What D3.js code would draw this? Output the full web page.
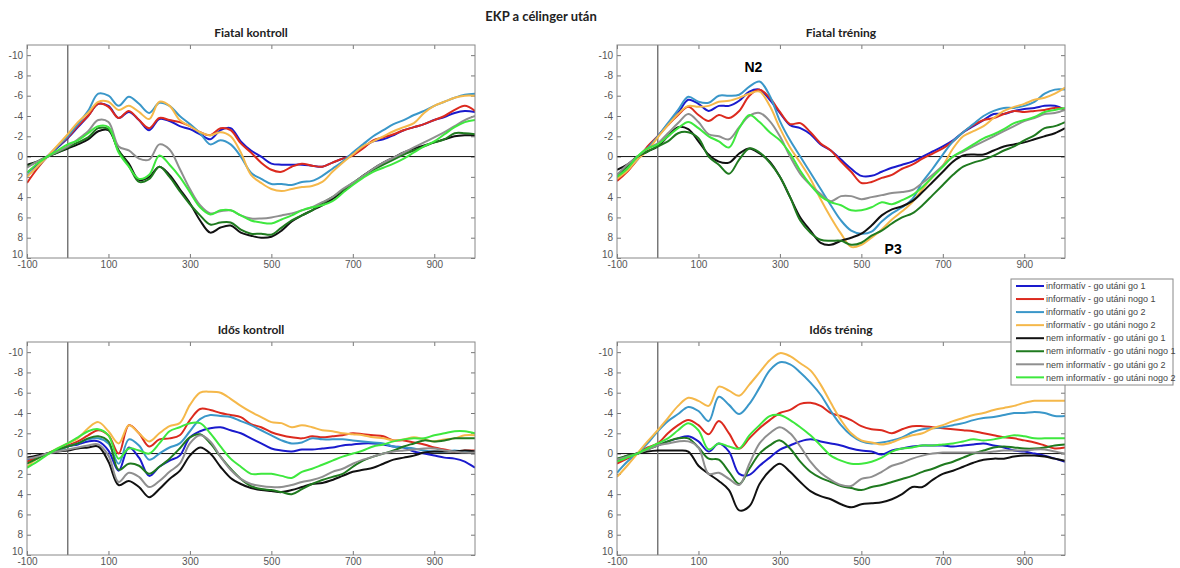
<!DOCTYPE html>
<html>
<head>
<meta charset="utf-8">
<script src="https://cdn.jsdelivr.net/npm/d3@7"></script>
<style>
  body { margin: 0; background: #fff; }
  svg { display: block; font-family: "Liberation Sans", Arial, sans-serif; }
</style>
</head>
<body>
<svg id="chart" width="1180" height="568"></svg>
<script>
// --- adatok ---
// idő (ms), 25 ms-onként
const times = [-100, -75, -50, -25, 0, 25, 50, 75, 100, 125, 150, 175, 200, 225, 250, 275,
  300, 325, 350, 375, 400, 425, 450, 475, 500, 525, 550, 575, 600, 625, 650, 675,
  700, 725, 750, 775, 800, 825, 850, 875, 900, 925, 950, 975, 1000];

const seriesNames = [
  "informatív - go utáni go 1", "informatív - go utáni nogo 1",
  "informatív - go utáni go 2", "informatív - go utáni nogo 2",
  "nem informatív - go utáni go 1", "nem informatív - go utáni nogo 1",
  "nem informatív - go utáni go 2", "nem informatív - go utáni nogo 2"
];
const seriesColors = ["#1a1acd", "#dc2a1e", "#3a97c9", "#f5b84a", "#111111", "#1f7a1f", "#8f8f8f", "#3ee83e"];

const xTicks = [-100, 100, 300, 500, 700, 900];
const yTicks = [-10, -8, -6, -4, -2, 0, 2, 4, 6, 8, 10];

// Fiatal kontroll
const fkInfGo1 = [1.6, 0.8, 0.0, -0.9, -1.8, -2.9, -4.0, -5.2, -5.0, -3.8, -4.4, -3.6, -2.6, -3.7, -3.5, -3.0, -2.7, -2.2, -1.7, -2.6, -2.8, -1.5, -0.6, 0.0, 0.7, 0.8, 0.8, 0.8, 0.9, 1.0, 0.6, 0.2, -0.2, -0.9, -1.5, -1.7, -2.1, -2.6, -2.9, -3.2, -3.6, -3.9, -4.3, -4.5, -4.4];
const fkInfNogo1 = [2.6, 1.2, 0.0, -1.0, -1.9, -3.0, -4.0, -5.2, -4.9, -3.8, -4.5, -3.6, -2.8, -3.8, -3.6, -3.4, -3.0, -2.4, -2.1, -2.8, -2.6, -1.3, -0.4, 0.6, 1.3, 1.5, 1.0, 0.7, 0.9, 1.0, 0.6, 0.2, -0.1, -0.8, -1.6, -1.9, -2.2, -2.6, -2.9, -3.2, -3.6, -4.0, -4.6, -5.0, -4.5];
const fkInfGo2 = [1.9, 1.0, 0.0, -1.0, -2.0, -3.2, -4.5, -6.2, -6.0, -5.0, -5.9, -5.2, -4.3, -5.3, -5.0, -4.0, -3.2, -2.3, -1.2, -1.6, -1.2, 0.0, 1.6, 2.2, 2.7, 2.7, 2.8, 2.5, 2.4, 1.9, 1.2, 0.5, -0.4, -1.2, -2.0, -2.6, -3.2, -3.6, -4.1, -4.5, -5.0, -5.4, -5.8, -6.1, -6.2];
const fkInfNogo2 = [2.0, 1.0, 0.0, -1.1, -2.2, -3.4, -4.3, -5.4, -5.4, -4.6, -5.0, -4.4, -3.7, -5.4, -5.0, -3.6, -3.0, -2.4, -2.1, -2.4, -2.0, -0.4, 1.8, 2.6, 3.2, 3.4, 3.2, 3.0, 2.9, 2.5, 1.5, 0.6, -0.2, -1.0, -1.5, -2.0, -2.5, -2.9, -3.3, -4.3, -5.0, -5.4, -5.8, -6.0, -6.0];
const fkNemGo1 = [0.8, 0.5, 0.0, -0.4, -0.8, -1.2, -1.7, -2.5, -2.6, -0.6, 0.7, 2.3, 2.0, 1.0, 1.8, 3.2, 4.6, 6.3, 7.5, 7.0, 6.8, 7.5, 7.8, 8.0, 7.9, 7.3, 6.4, 5.8, 5.3, 4.8, 4.2, 3.5, 2.7, 1.9, 1.2, 0.6, 0.1, -0.4, -0.8, -1.1, -1.4, -1.7, -2.0, -2.1, -2.1];
const fkNemNogo1 = [1.0, 0.5, 0.0, -0.4, -0.9, -1.4, -1.9, -2.8, -2.7, -0.6, 0.9, 2.5, 2.2, 1.0, 2.0, 3.4, 4.7, 5.8, 6.7, 6.5, 6.5, 7.2, 7.6, 7.6, 7.7, 7.0, 6.3, 5.8, 5.3, 4.6, 4.0, 3.3, 2.6, 1.9, 1.3, 0.8, 0.3, -0.2, -0.6, -1.0, -1.4, -1.7, -2.3, -2.3, -2.2];
const fkNemGo2 = [1.1, 0.5, 0.0, -0.5, -1.0, -1.7, -2.5, -3.6, -3.4, -1.0, -0.6, 0.2, 0.3, -1.2, -0.7, 1.2, 3.2, 4.8, 5.6, 5.4, 5.3, 5.8, 6.1, 6.1, 6.0, 5.8, 5.6, 5.3, 5.0, 4.5, 4.0, 3.2, 2.6, 1.9, 1.2, 0.6, 0.1, -0.4, -0.9, -1.4, -1.9, -2.4, -3.0, -3.6, -4.0];
const fkNemNogo2 = [1.6, 0.7, 0.0, -0.6, -1.2, -1.6, -2.3, -3.0, -2.9, -0.4, 1.0, 2.2, 1.8, -0.1, 0.8, 2.0, 3.5, 5.0, 5.7, 5.3, 5.3, 5.8, 6.3, 6.5, 6.6, 6.2, 5.8, 5.3, 5.0, 4.8, 4.4, 3.6, 2.8, 2.1, 1.5, 1.1, 0.7, 0.2, -0.4, -1.0, -1.5, -2.2, -2.9, -3.4, -3.6];

// Fiatal tréning
const ftInfGo1 = [2.0, 1.3, 0.3, -0.9, -2.0, -3.2, -4.3, -5.6, -5.2, -4.5, -5.0, -5.0, -5.5, -6.4, -6.6, -5.6, -4.3, -3.1, -2.8, -2.2, -1.2, -0.6, 0.3, 1.2, 1.9, 1.9, 1.5, 1.1, 0.8, 0.5, 0.0, -0.5, -1.0, -1.6, -2.4, -3.0, -3.6, -4.2, -4.2, -4.5, -4.7, -4.8, -5.0, -5.0, -4.6];
const ftInfNogo1 = [2.4, 1.5, 0.3, -1.0, -2.0, -3.1, -4.1, -4.9, -4.1, -3.5, -4.1, -3.8, -4.5, -6.0, -6.6, -5.8, -4.4, -3.2, -3.3, -2.4, -1.3, -0.6, 0.5, 1.5, 2.6, 2.5, 2.1, 1.8, 1.2, 0.8, 0.2, -0.3, -0.8, -1.5, -2.4, -3.1, -3.6, -3.8, -4.2, -4.5, -4.4, -4.5, -4.6, -4.8, -4.7];
const ftInfGo2 = [2.0, 1.2, 0.3, -0.8, -2.0, -3.3, -4.6, -5.9, -5.4, -5.3, -6.0, -6.0, -6.1, -6.9, -7.4, -6.0, -3.5, -1.6, 0.0, 1.6, 3.2, 4.8, 6.3, 7.3, 7.6, 7.4, 6.4, 5.6, 5.0, 4.2, 2.5, 1.2, -0.2, -1.5, -2.4, -3.2, -4.0, -4.5, -4.8, -4.8, -5.0, -5.4, -6.2, -6.6, -6.6];
const ftInfNogo2 = [2.2, 1.4, 0.3, -0.6, -1.9, -3.1, -4.2, -5.0, -4.9, -5.0, -5.4, -5.5, -5.8, -6.2, -6.4, -5.0, -2.8, -0.9, 0.6, 2.2, 4.2, 6.0, 7.6, 8.9, 8.7, 8.0, 7.2, 6.2, 5.4, 4.5, 3.2, 2.0, 0.9, -0.8, -2.0, -2.5, -3.0, -3.8, -4.5, -4.9, -5.2, -5.6, -5.8, -6.2, -6.8];
const ftNemGo1 = [1.3, 0.8, 0.0, -0.5, -1.0, -2.0, -2.9, -2.7, -1.5, -0.2, 0.5, 0.6, -0.3, -0.8, -0.3, 0.5, 2.0, 4.0, 6.0, 7.3, 8.5, 8.7, 8.3, 8.0, 7.6, 6.8, 5.8, 5.2, 4.9, 4.4, 3.5, 2.5, 1.5, 0.5, -0.1, -0.2, -0.2, -0.6, -1.0, -1.2, -1.4, -1.7, -2.0, -2.3, -2.8];
const ftNemNogo1 = [1.8, 1.0, 0.0, -0.5, -1.0, -1.5, -2.3, -2.4, -1.8, 0.0, 0.8, 1.7, 0.3, -0.8, -0.4, 0.6, 2.0, 4.0, 6.3, 7.5, 8.2, 8.3, 8.3, 8.7, 8.5, 7.8, 7.3, 6.6, 6.0, 5.6, 4.8, 3.8, 2.8, 1.8, 1.0, 0.6, 0.3, -0.1, -0.6, -1.0, -1.6, -2.1, -2.8, -3.0, -3.4];
const ftNemGo2 = [1.8, 0.8, 0.0, -0.8, -1.3, -2.3, -3.3, -4.2, -3.4, -2.2, -2.0, -1.7, -2.9, -4.0, -4.3, -3.5, -2.0, 0.0, 1.7, 2.8, 3.7, 4.4, 3.9, 3.9, 4.2, 4.0, 3.8, 3.6, 3.5, 3.3, 2.6, 1.8, 0.9, 0.0, -0.5, -1.0, -1.5, -2.0, -2.5, -3.0, -3.5, -3.8, -4.2, -4.3, -4.6];
const ftNemNogo2 = [2.0, 1.2, 0.0, -0.8, -1.2, -2.0, -2.8, -3.4, -2.8, -2.0, -1.5, -0.9, -2.8, -4.1, -3.4, -2.4, -1.6, -0.3, 1.4, 2.8, 3.9, 4.5, 4.8, 5.3, 5.3, 5.0, 4.5, 4.7, 4.3, 3.8, 3.0, 2.0, 1.0, 0.0, -0.6, -1.2, -1.8, -2.2, -2.7, -3.3, -3.6, -3.9, -4.4, -4.6, -4.8];

// Idős kontroll
const ikInfGo1 = [0.6, 0.3, 0.0, -0.3, -0.7, -0.9, -1.2, -1.2, -0.3, 1.7, -0.6, 0.4, 2.2, 1.3, 0.7, 0.2, -1.6, -2.2, -2.5, -2.6, -2.3, -2.0, -1.5, -1.0, -0.5, -0.3, -0.2, -0.4, -0.4, -0.5, -0.6, -0.8, -0.9, -1.0, -1.0, -0.9, -0.7, -0.6, -0.2, 0.0, 0.2, 0.4, 0.5, 0.8, 1.4];
const ikInfNogo1 = [0.8, 0.4, 0.0, -0.4, -0.8, -1.2, -1.8, -2.3, -1.8, 0.0, -2.8, -2.0, -0.7, -1.4, -1.5, -1.8, -3.3, -4.4, -4.3, -4.0, -3.8, -3.6, -2.9, -2.6, -2.1, -1.8, -1.6, -1.5, -1.7, -1.6, -1.7, -1.8, -2.0, -1.9, -1.8, -1.7, -1.3, -1.3, -1.1, -0.9, -0.6, -0.4, -0.2, -0.3, -0.3];
const ikInfGo2 = [0.5, 0.3, 0.0, -0.3, -0.7, -1.0, -1.4, -1.5, -1.0, 1.0, -1.4, -0.8, 0.6, 0.0, -0.6, -1.0, -2.2, -3.4, -3.8, -3.7, -3.6, -3.2, -2.8, -2.3, -1.8, -1.3, -1.0, -1.1, -1.5, -1.4, -1.4, -1.4, -1.3, -1.2, -1.1, -1.0, -0.7, -0.6, -0.5, -0.3, -0.2, -0.2, -0.3, -0.2, -0.2];
const ikInfNogo2 = [1.3, 0.5, 0.0, -0.5, -1.0, -1.5, -2.5, -3.1, -2.2, -1.0, -2.8, -2.0, -1.2, -2.0, -2.7, -3.0, -4.8, -6.0, -6.1, -6.0, -5.4, -4.7, -4.1, -3.6, -3.1, -3.0, -2.6, -2.8, -2.6, -2.3, -2.2, -2.0, -1.9, -1.8, -1.6, -1.5, -1.3, -1.4, -1.6, -1.4, -1.2, -1.4, -1.5, -1.8, -1.8];
const ikNemGo1 = [0.4, 0.2, 0.0, -0.2, -0.3, -0.5, -0.6, -0.7, 0.8, 3.1, 2.7, 3.3, 4.3, 3.5, 2.5, 1.7, 0.2, -0.6, 0.0, 1.3, 2.4, 3.0, 3.4, 3.6, 3.7, 3.8, 3.6, 3.3, 3.0, 2.9, 2.6, 2.2, 1.8, 1.6, 1.4, 1.0, 0.6, 0.4, 0.2, -0.1, -0.2, -0.2, -0.2, -0.3, -0.2];
const ikNemNogo1 = [1.0, 0.5, 0.0, -0.4, -0.7, -1.0, -1.5, -1.7, -1.2, 1.6, 1.0, 1.2, 2.0, 1.3, 0.5, -0.5, -1.6, -1.9, -1.0, 0.3, 1.5, 2.5, 3.2, 3.5, 3.6, 3.8, 4.0, 3.5, 3.0, 2.6, 2.3, 2.0, 1.3, 0.7, 0.3, 0.0, -0.3, -0.7, -1.0, -1.3, -1.2, -1.3, -1.5, -1.5, -1.5];
const ikNemGo2 = [0.5, 0.3, 0.0, -0.2, -0.4, -0.6, -0.8, -0.9, 0.2, 2.8, 1.9, 2.3, 3.3, 2.7, 1.8, 1.0, -1.0, -1.8, -1.2, 0.3, 1.6, 2.5, 3.0, 3.2, 3.3, 3.3, 3.1, 2.8, 2.6, 2.3, 1.8, 1.5, 1.0, 0.6, 0.3, 0.0, -0.2, -0.3, -0.4, -0.5, -0.5, -0.3, -0.2, -0.1, -0.1];
const ikNemNogo2 = [1.4, 0.8, 0.1, -0.5, -1.0, -1.6, -2.2, -2.4, -1.8, 0.5, -0.5, -0.3, 0.0, -1.0, -2.2, -2.6, -3.0, -3.0, -2.0, -0.7, 0.5, 1.3, 2.0, 2.0, 2.0, 2.2, 2.4, 1.8, 1.5, 1.1, 0.7, 0.3, 0.0, -0.3, -0.7, -0.9, -1.2, -1.4, -1.5, -1.5, -1.8, -2.0, -2.2, -2.2, -2.0];

// Idős tréning
const itInfGo1 = [0.8, 0.4, 0.0, -0.5, -0.8, -1.2, -1.5, -1.7, -1.2, -0.2, -1.0, -0.2, 2.0, 2.1, 1.2, 0.4, -0.4, -0.8, -1.2, -1.4, -1.2, -1.0, -0.8, -0.5, -0.3, -0.2, 0.1, -0.3, -0.5, -0.7, -0.8, -0.8, -0.8, -0.7, -0.8, -0.9, -1.0, -0.8, -0.6, -0.3, -0.2, 0.0, 0.2, 0.5, 0.8];
const itInfNogo1 = [1.0, 0.5, 0.0, -0.6, -1.0, -2.0, -2.8, -3.3, -2.8, -1.9, -3.2, -2.0, -0.5, -1.5, -2.5, -3.3, -4.0, -4.3, -4.9, -5.0, -4.7, -4.0, -3.7, -3.3, -2.7, -2.4, -2.3, -2.0, -2.4, -2.7, -2.7, -2.6, -2.5, -2.4, -2.3, -2.2, -2.0, -1.8, -1.6, -1.5, -1.3, -1.1, -0.8, -0.5, -0.6];
const itInfGo2 = [1.9, 0.8, 0.0, -1.0, -2.2, -3.2, -3.9, -4.6, -4.2, -3.2, -5.6, -4.8, -3.9, -4.9, -6.5, -8.2, -9.0, -8.8, -8.0, -7.0, -5.8, -4.2, -2.8, -1.8, -1.2, -1.0, -1.1, -1.3, -1.6, -2.1, -2.4, -2.5, -2.6, -2.8, -3.0, -3.3, -3.5, -3.6, -3.8, -4.0, -4.0, -4.1, -4.0, -3.7, -3.7];
const itInfNogo2 = [2.3, 1.2, 0.0, -1.2, -2.3, -3.5, -4.7, -5.5, -5.2, -4.7, -6.6, -6.2, -5.7, -6.8, -8.0, -9.2, -9.9, -9.6, -8.9, -8.2, -6.8, -5.0, -3.3, -2.0, -1.3, -1.1, -0.9, -1.1, -1.5, -1.8, -2.0, -2.5, -2.8, -3.2, -3.5, -3.8, -4.0, -4.3, -4.5, -4.7, -5.0, -5.2, -5.2, -5.2, -5.2];
const itNemGo1 = [0.7, 0.2, 0.0, -0.2, -0.3, -0.3, -0.3, -0.2, 1.2, 2.0, 2.7, 3.6, 5.6, 5.2, 3.0, 1.7, 1.0, 1.8, 2.8, 3.7, 4.2, 4.5, 5.0, 5.3, 5.0, 4.9, 4.8, 4.5, 4.0, 3.3, 3.3, 2.6, 2.0, 1.7, 1.3, 0.9, 0.6, 0.5, 0.5, 0.3, 0.2, 0.2, 0.3, 0.5, 0.7];
const itNemNogo1 = [0.5, 0.2, 0.0, -0.4, -0.8, -1.2, -1.5, -1.5, -0.6, 0.5, 0.6, 1.8, 3.0, 1.5, 0.0, -0.8, -1.3, -0.5, 0.8, 1.8, 2.4, 2.8, 3.2, 3.4, 3.6, 3.3, 3.1, 2.8, 2.5, 2.2, 1.8, 1.5, 1.1, 0.8, 0.4, 0.0, -0.3, -0.6, -0.7, -0.6, -0.5, -0.5, -0.6, -0.8, -0.9];
const itNemGo2 = [0.6, 0.3, 0.0, -0.4, -0.8, -1.0, -1.2, -1.2, -0.6, 2.0, 1.9, 2.5, 3.1, 1.0, -1.0, -2.0, -2.6, -2.0, -0.7, 0.8, 1.9, 2.6, 3.1, 3.2, 2.5, 2.3, 1.8, 1.2, 0.9, 0.5, 0.2, 0.0, -0.1, -0.1, -0.1, -0.1, -0.1, -0.2, -0.3, -0.3, -0.3, -0.4, -0.4, -0.2, 0.0];
const itNemNogo2 = [0.8, 0.4, 0.0, -0.5, -1.0, -1.5, -2.3, -3.0, -2.3, -0.4, -1.0, -0.7, -0.5, -1.8, -2.8, -3.7, -3.8, -3.3, -2.6, -1.8, -0.8, 0.2, 0.7, 1.0, 1.0, 0.8, 0.4, -0.2, -0.5, -0.6, -0.8, -0.8, -0.9, -1.0, -1.2, -1.4, -1.3, -1.4, -1.6, -1.8, -1.7, -1.5, -1.5, -1.5, -1.5];

// --- elrendezés ---
const plotW = 448, plotH = 213;
const panels = [
  { title: "Fiatal kontroll", left: 27, top: 45,
    series: [fkInfGo1, fkInfNogo1, fkInfGo2, fkInfNogo2, fkNemGo1, fkNemNogo1, fkNemGo2, fkNemNogo2] },
  { title: "Fiatal tréning", left: 617, top: 45,
    series: [ftInfGo1, ftInfNogo1, ftInfGo2, ftInfNogo2, ftNemGo1, ftNemNogo1, ftNemGo2, ftNemNogo2] },
  { title: "Idős kontroll", left: 27, top: 342,
    series: [ikInfGo1, ikInfNogo1, ikInfGo2, ikInfNogo2, ikNemGo1, ikNemNogo1, ikNemGo2, ikNemNogo2] },
  { title: "Idős tréning", left: 617, top: 342,
    series: [itInfGo1, itInfNogo1, itInfGo2, itInfNogo2, itNemGo1, itNemNogo1, itNemGo2, itNemNogo2] }
];

const svg = d3.select("#chart");

svg.append("text")
  .attr("x", 541).attr("y", 21)
  .attr("text-anchor", "middle")
  .style("font-family", "Lato, 'Open Sans', sans-serif")
  .style("font-weight", "bold").style("font-size", "13px").style("fill", "#222")
  .text("EKP a célinger után");

panels.forEach((p, pi) => {
  const x = d3.scaleLinear().domain([-100, 1000]).range([0, plotW]);
  const y = d3.scaleLinear().domain([-11, 10]).range([0, plotH]);

  const g = svg.append("g").attr("transform", `translate(${p.left},${p.top})`);

  g.append("text")
    .attr("x", plotW / 2).attr("y", -8)
    .attr("text-anchor", "middle")
    .style("font-family", "Lato, 'Open Sans', sans-serif")
    .style("font-weight", "bold").style("font-size", "12px").style("fill", "#222")
    .text(p.title);

  const clipId = "clip" + pi;
  g.append("clipPath").attr("id", clipId)
    .append("rect").attr("width", plotW).attr("height", plotH);

  // tengelyek (MATLAB-szerű doboz, befelé álló jelölők)
  const fmt = d => String(d);
  const styleAxis = sel => {
    sel.selectAll(".domain").remove();
    sel.selectAll("line").attr("stroke", "#777");
    sel.selectAll("text").style("font-size", "10px").style("fill", "#555")
      .style("font-family", "'Liberation Sans', Arial, sans-serif");
  };
  const yAxis = g.append("g")
    .call(d3.axisLeft(y).tickValues(yTicks).tickFormat(fmt).tickSizeInner(-4).tickSizeOuter(0).tickPadding(4))
    .call(styleAxis);
  // a sarokban lévő "10" kicsit feljebb, mint az eredetin
  yAxis.selectAll(".tick").filter(d => d === 10).select("text").attr("dy", "-0.05em");
  g.append("g").attr("transform", `translate(${plotW},0)`)
    .call(d3.axisRight(y).tickValues(yTicks).tickFormat("").tickSizeInner(-4).tickSizeOuter(0)).call(styleAxis);
  g.append("g").attr("transform", `translate(0,${plotH})`)
    .call(d3.axisBottom(x).tickValues(xTicks).tickFormat(fmt).tickSizeInner(-4).tickSizeOuter(0).tickPadding(3)).call(styleAxis);
  g.append("g")
    .call(d3.axisTop(x).tickValues(xTicks).tickFormat("").tickSizeInner(-4).tickSizeOuter(0)).call(styleAxis);

  // nullvonalak
  g.append("line")
    .attr("x1", 0).attr("x2", plotW).attr("y1", y(0)).attr("y2", y(0))
    .attr("stroke", "#111").attr("stroke-width", 1);
  g.append("line")
    .attr("x1", x(0)).attr("x2", x(0)).attr("y1", 0).attr("y2", plotH)
    .attr("stroke", "#777").attr("stroke-width", 1.5);

  const line = d3.line()
    .x((d, i) => x(times[i]))
    .y(d => y(d))
    .curve(d3.curveCatmullRom.alpha(0.5));

  g.append("g").attr("clip-path", `url(#${clipId})`)
    .selectAll("path")
    .data(p.series)
    .enter().append("path")
    .attr("d", line)
    .attr("fill", "none")
    .attr("stroke", (d, i) => seriesColors[i])
    .attr("stroke-width", 2)
    .attr("stroke-linejoin", "round");

  g.append("rect")
    .attr("width", plotW).attr("height", plotH)
    .attr("fill", "none").attr("stroke", "#888").attr("stroke-width", 1);

  if (pi === 1) {
    g.append("text").attr("x", x(235)).attr("y", y(-8.3))
      .attr("text-anchor", "middle")
      .style("font-weight", "bold").style("font-size", "14px").text("N2");
    g.append("text").attr("x", x(578)).attr("y", y(9.6))
      .attr("text-anchor", "middle")
      .style("font-weight", "bold").style("font-size", "14px").text("P3");
  }
});

// --- jelmagyarázat ---
const legend = svg.append("g").attr("transform", "translate(1011,279)");
legend.append("rect")
  .attr("width", 162).attr("height", 106)
  .attr("fill", "#fff").attr("stroke", "#888");
seriesNames.forEach((name, i) => {
  const row = legend.append("g").attr("transform", `translate(0,${7 + i * 13.05})`);
  row.append("line").attr("x1", 5).attr("x2", 33)
    .attr("stroke", seriesColors[i]).attr("stroke-width", 2);
  row.append("text").attr("x", 35).attr("y", 3.2)
    .style("font-size", "9px").style("fill", "#444")
    .text(name);
});
</script>
</body>
</html>
